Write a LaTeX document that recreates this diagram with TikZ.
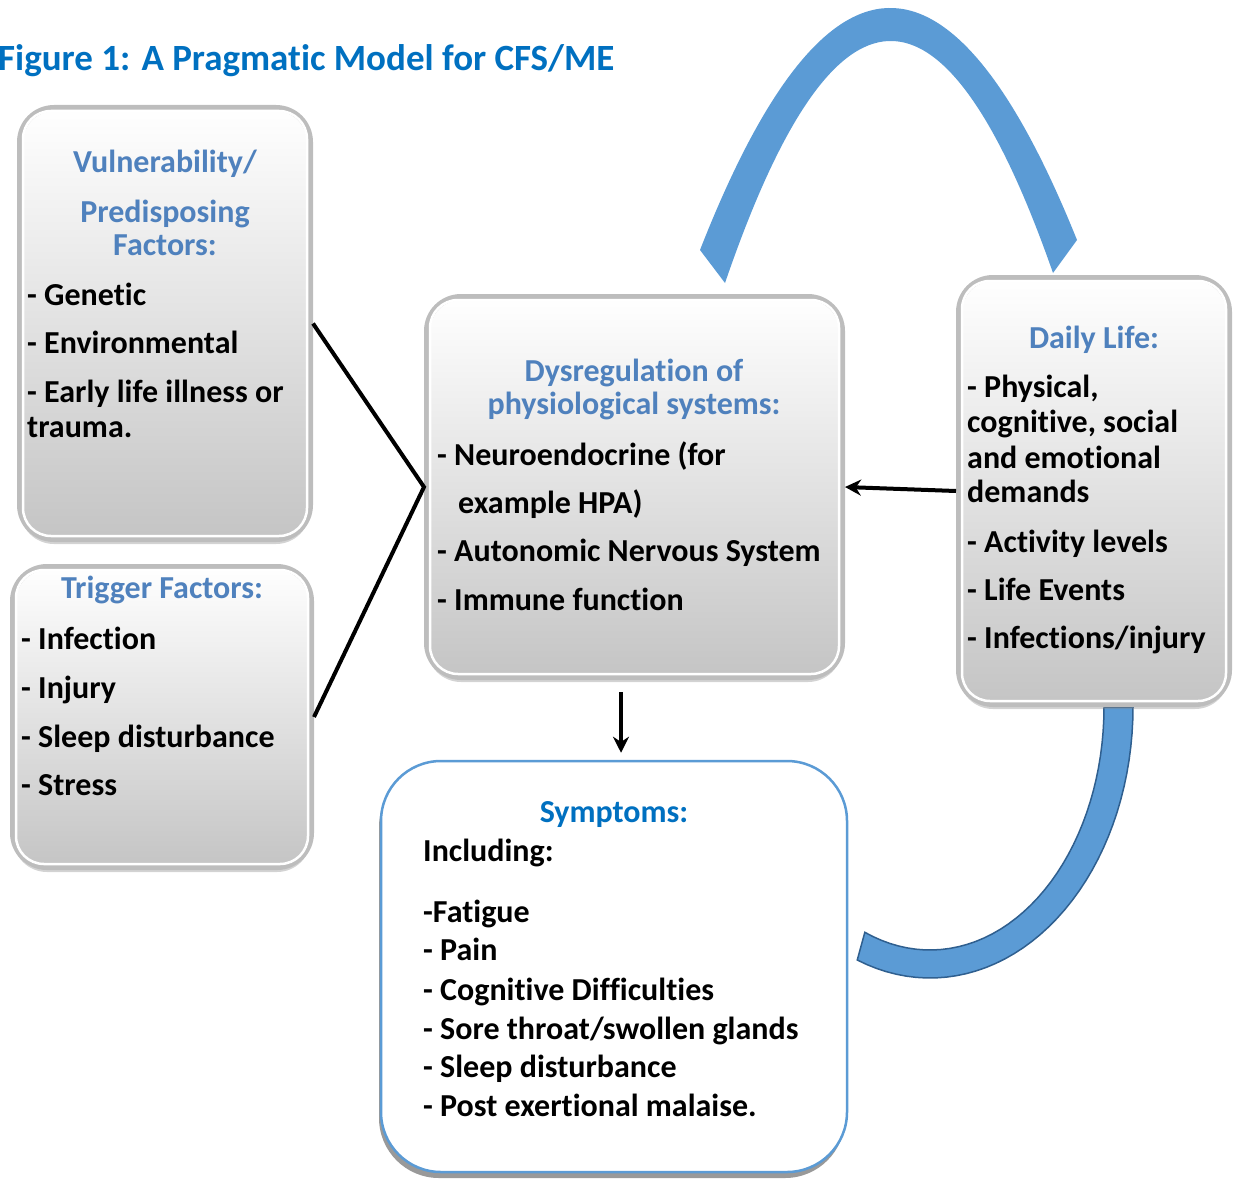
\documentclass[tikz,border=0pt]{standalone}
\usepackage{fontspec}
\setmainfont{Carlito}[Ligatures={NoCommon}]
\usetikzlibrary{arrows.meta,shadows}

\definecolor{hdblue}{HTML}{4F81BD}
\definecolor{titleblue}{HTML}{0070C0}
\definecolor{arcblue}{HTML}{5B9BD5}
\definecolor{arcline}{HTML}{2F5F8F}

\newcommand\bodyfont{\fontsize{32}{35}\selectfont\bfseries}

\tikzset{
  panel/.style={rounded corners=34pt, top color=white, bottom color=black!23,
    draw=black!26, line width=6pt, inner sep=0pt,
    drop shadow={shadow xshift=0pt, shadow yshift=-5pt, opacity=.35}},
  sympanel/.style={rounded corners=60pt, fill=white, draw=arcblue,
    line width=2.5pt, inner sep=0pt,
    drop shadow={shadow xshift=-2pt, shadow yshift=-6pt, fill=black!40, opacity=1}},
  head/.style={font=\bodyfont, text=hdblue, align=center, anchor=base, inner sep=0pt},
  items/.style={font=\bodyfont, align=left, anchor=base west, inner sep=0pt},
  link/.style={line width=4pt},
}

\begin{document}
\begin{tikzpicture}[x=1pt,y=-1pt]
\useasboundingbox (0,0) rectangle (1233,1180);

% Blue loop arcs
\fill[arcblue] (700,250) .. controls (825.3,-69.3) and (951,-72.7) .. (1077,240)
  -- (1053,273) .. controls (943.7,-39.7) and (834.3,-36.3) .. (725,283) -- cycle;
\filldraw[arcblue, draw=arcline, line width=1.5pt]
  plot[domain=0:111, samples=40] ({930+203*cos(\x)},{707+271*sin(\x)})
  -- plot[domain=112:0, samples=40] ({930+174*cos(\x)},{707+243*sin(\x)}) -- cycle;

% Title
\node[font=\fontsize{37}{40}\selectfont\bfseries, text=titleblue, anchor=base west, inner sep=0pt]
  (title) at (-2,71) {Figure 1: A Pragmatic Model for CFS/ME};

% Boxes
\node[panel, minimum width=290pt, minimum height=431pt] (vuln) at (165,323.5) {};
\node[panel, minimum width=298pt, minimum height=300pt] (trig) at (162,717) {};
\node[panel, minimum width=415pt, minimum height=380pt] (ctr) at (634.5,487) {};
\node[panel, minimum width=270pt, minimum height=426pt] (daily) at (1094,491) {};
\node[sympanel, minimum width=466pt, minimum height=411pt] (sym) at (614,966.5) {};

% inner highlight
\foreach \b in {vuln,trig,ctr,daily}
  \draw[white, line width=2.5pt, rounded corners=28pt]
    ([xshift=6pt,yshift=-6pt]\b.north west) rectangle ([xshift=-6pt,yshift=6pt]\b.south east);

% Box texts (placed by their last line)
\node[head] (vulnhead) at (165,255) {Vulnerability/\\[15pt]Predisposing\\[-2pt]Factors:};
\node[items] (vulnlist) at (27,437) {- Genetic\\[13pt]- Environmental\\[14pt]- Early life illness or\\trauma.};

\node[head] (trighead) at (162,598) {Trigger Factors:};
\node[items] (triglist) at (21,795) {- Infection\\[14pt]- Injury\\[14pt]- Sleep disturbance\\[13pt]- Stress};

\node[head] (ctrhead) at (634,414) {Dysregulation of\\[-2pt]physiological systems:};
\node[items] (ctrlist) at (437,610) {- Neuroendocrine (for\\[13pt]\hspace*{21pt}example HPA)\\[13pt]- Autonomic Nervous System\\[14pt]- Immune function};

\node[head] (dailyhead) at (1094,348) {Daily Life:};
\node[items] (dailylist) at (967,648) {- Physical,\\cognitive, social\\[1pt]and emotional\\[-1pt]demands\\[15pt]- Activity levels\\[13pt]- Life Events\\[13pt]- Infections/injury};

\node[head, text=titleblue] (symhead) at (614,822) {Symptoms:};
\node[items] (symlist) at (423,1116) {Including:\\[26pt]-Fatigue\\[3pt]- Pain\\[5pt]- Cognitive Difficulties\\[4pt]- Sore throat/swollen glands\\[3pt]- Sleep disturbance\\[4pt]- Post exertional malaise.};

% Connectors
\draw[link] (vuln.east) -- (ctr.west) -- (trig.east);
\draw[link, -{Stealth[length=16pt, width=16pt]}] (daily.west) -- (ctr.east);
\draw[link, -{Stealth[length=16pt, width=16pt]}]
  ([xshift=-13.5pt, yshift=-12pt]ctr.south) -- ([xshift=7pt, yshift=7pt]sym.north);

\end{tikzpicture}
\end{document}
